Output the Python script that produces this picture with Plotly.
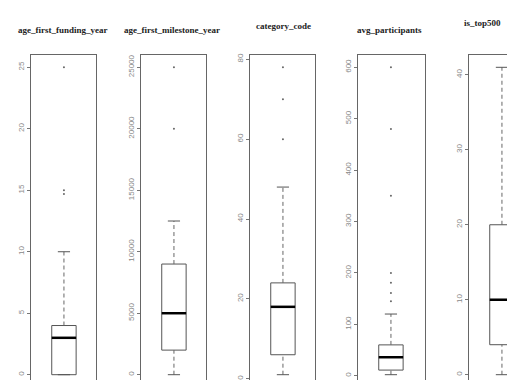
import plotly.graph_objects as go

# ---- data ----
titles = ["age_first_funding_year", "age_first_milestone_year", "category_code",
          "avg_participants", "is_top500"]
lower_whisker = [0, 0, 1, 2, 0]
q1 = [0, 2000, 6, 11, 4]
median = [3, 5000, 18, 36, 10]
q3 = [4, 9000, 24, 60, 20]
upper_whisker = [10, 12500, 48, 120, 41]
outliers = [[14.7, 15.0, 25], [20000, 25000], [60, 70, 78],
            [145, 161, 181, 200, 350, 480, 600], []]
tick_step = [5, 5000, 20, 100, 10]

# ---- styling / layout constants ----
W, H = 515, 380
TOP, BOT = 47, 1
panel_px = [(23, 88), (133, 198), (242, 307), (350, 417), (461, 515)]
title_pos = [(55, 22), (164, 22), (275, 18), (381, 22), (474, 15)]
PX_PER_UNIT = 61.0
BOX_W = 0.4
CAP_W = 0.2

fig = go.Figure()
layout = dict(width=W, height=H, margin=dict(l=0, r=0, t=TOP, b=BOT),
              plot_bgcolor="white", paper_bgcolor="white", showlegend=False)

plot_h = H - TOP - BOT
annotations = []
for i in range(5):
    n = i + 1
    xa = "x" if n == 1 else f"x{n}"
    ya = "y" if n == 1 else f"y{n}"
    c = 1.0
    l, r = c - BOX_W / 2, c + BOX_W / 2
    # box
    fig.add_trace(go.Scatter(x=[l, r, r, l, l], y=[q1[i], q1[i], q3[i], q3[i], q1[i]],
                             mode="lines", line=dict(color="#555", width=1),
                             xaxis=xa, yaxis=ya, hoverinfo="skip"))
    # whiskers (dashed)
    fig.add_trace(go.Scatter(x=[c, c, None, c, c],
                             y=[q3[i], upper_whisker[i], None, lower_whisker[i], q1[i]],
                             mode="lines", line=dict(color="#666", width=1, dash="4px,3px"),
                             xaxis=xa, yaxis=ya, hoverinfo="skip"))
    # caps
    fig.add_trace(go.Scatter(x=[c - CAP_W / 2, c + CAP_W / 2, None, c - CAP_W / 2, c + CAP_W / 2],
                             y=[upper_whisker[i], upper_whisker[i], None, lower_whisker[i], lower_whisker[i]],
                             mode="lines", line=dict(color="#555", width=1),
                             xaxis=xa, yaxis=ya, hoverinfo="skip"))
    # median
    fig.add_trace(go.Scatter(x=[l, r], y=[median[i], median[i]], mode="lines",
                             line=dict(color="black", width=2.5), xaxis=xa, yaxis=ya,
                             hoverinfo="skip"))
    # outliers
    if outliers[i]:
        fig.add_trace(go.Scatter(x=[c] * len(outliers[i]), y=outliers[i], mode="markers",
                                 marker=dict(color="#666", size=2), xaxis=xa, yaxis=ya,
                                 hoverinfo="skip"))
    # ranges (R style 4% padding)
    lo = min([lower_whisker[i]] + outliers[i])
    hi = max([upper_whisker[i]] + outliers[i])
    pad = 0.04 * (hi - lo)
    p0, p1 = panel_px[i]
    width_units = (p1 - p0) / PX_PER_UNIT
    x0 = 0.46
    layout["xaxis" if n == 1 else f"xaxis{n}"] = dict(
        domain=[p0 / W, p1 / W], range=[x0, x0 + width_units], anchor=ya,
        showline=True, mirror=True, linecolor="#666", linewidth=1,
        showticklabels=False, ticks="", showgrid=False, zeroline=False, fixedrange=True)
    layout["yaxis" if n == 1 else f"yaxis{n}"] = dict(
        range=[lo - pad, hi + pad], anchor=xa, showline=True, mirror=(n != 5),
        linecolor="#666", linewidth=1, ticks="outside", ticklen=3, tickcolor="#777",
        tickmode="linear", tick0=0, dtick=tick_step[i], tickangle=-90,
        tickfont=dict(family="Liberation Sans", size=8, color="#888"),
        showgrid=False, zeroline=False, separatethousands=False, tickformat="d",
        fixedrange=True)
    tx, ty = title_pos[i]
    annotations.append(dict(text="<b>" + titles[i] + "</b>", x=tx / W,
                            y=1 + (TOP - ty) / plot_h, xref="paper", yref="paper",
                            xanchor="center", yanchor="middle", showarrow=False,
                            font=dict(family="Liberation Serif", size=9, color="#222")))

layout["annotations"] = annotations
fig.update_layout(**layout)
fig.write_html("out.html")
